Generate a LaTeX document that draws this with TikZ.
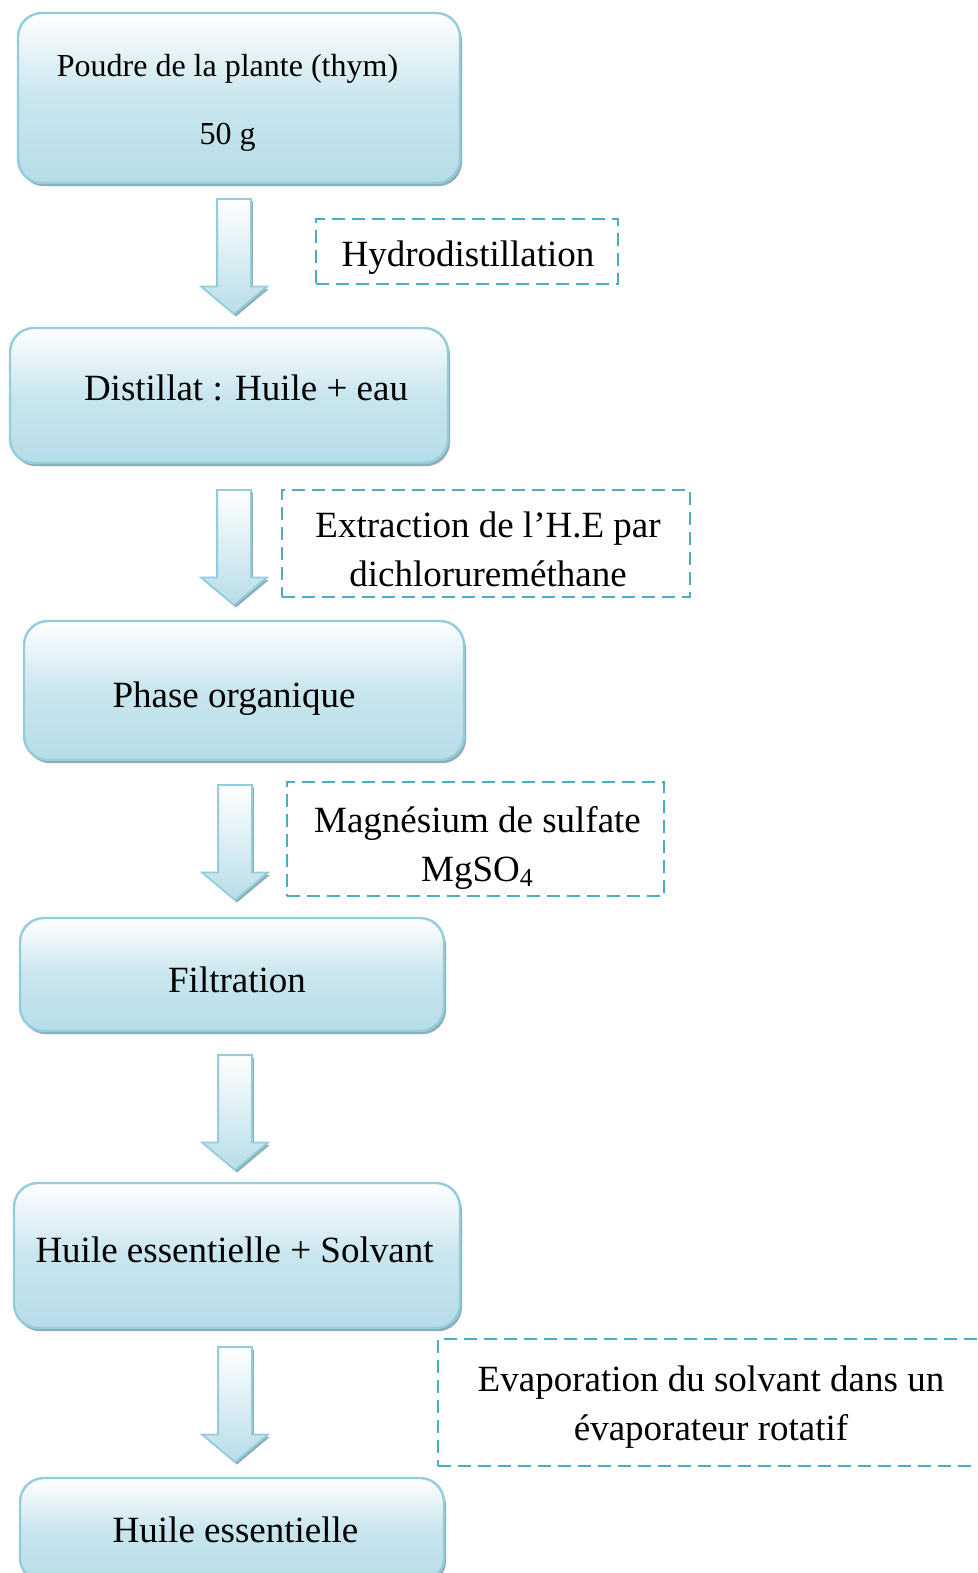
\documentclass[tikz,border=0pt]{standalone}
\usepackage{fontspec}
\setmainfont{Liberation Serif}
\usepackage{xcolor}
\usetikzlibrary{shapes.arrows,shadows}

\definecolor{boxblue}{HTML}{B7DDE8}
\definecolor{boxline}{HTML}{93CDDD}
\definecolor{dashblue}{HTML}{4BACC6}
\definecolor{shadowblue}{HTML}{8DADB6}

\begin{document}
\begin{tikzpicture}[x=0.5pt,y=-0.5pt,font=\fontsize{18.5}{24.5}\selectfont,
  stepbox/.style={draw=boxline,line width=1.2pt,rounded corners=12pt,
    top color=white,bottom color=boxblue,middle color=boxblue!75,inner sep=0pt,
    drop shadow={shadow xshift=1pt,shadow yshift=-1.6pt,fill=shadowblue,opacity=1}},
  notebox/.style={draw=dashblue,dashed,dash pattern=on 6.5pt off 3.5pt,line width=1.1pt,
    inner sep=0pt},
  txt/.style={align=center,inner sep=0pt},
  downarrow/.style={single arrow,shape border rotate=270,draw=boxline,line width=0.9pt,
    top color=white,bottom color=boxblue,inner xsep=8pt,inner ysep=0pt,
    minimum height=57.5pt,
    single arrow head extend=8pt,single arrow tip angle=100,
    drop shadow={shadow xshift=1pt,shadow yshift=-1.2pt,fill=shadowblue,opacity=1}}]

\useasboundingbox (0,0) rectangle (978,1573);

% poudre
\node[stepbox,minimum width=221pt,minimum height=85pt] (poudre) at (239,98) {};
\node[txt,font=\fontsize{16}{34}\selectfont] (t-poudre) at (227.5,103)
  {Poudre de la plante (thym)\\50 g};

\node[downarrow] (a1) at (234,249.5) {};
\node[notebox,minimum width=151pt,minimum height=32.5pt] (hydro) at (467,251.5) {};
\node[txt] (t-hydro) at (468,257.5) {Hydrodistillation};

% distillat
\node[stepbox,minimum width=219pt,minimum height=67.5pt] (distillat) at (229,395.5) {};
\node[txt] (t-distillat) at (246,387.5) {Distillat : Huile + eau};

\node[downarrow] (a2) at (234,540.5) {};
\node[notebox,minimum width=204pt,minimum height=53.5pt] (extraction) at (486,543.5) {};
\node[txt] (t-extraction) at (488,549.5)
  {Extraction de l’H.E par\\dichlorureméthane};

% phase organique
\node[stepbox,minimum width=220pt,minimum height=69.5pt] (phase) at (244,690.5) {};
\node[txt] (t-phase) at (234,698.5) {Phase organique};

\node[downarrow] (a3) at (235,835.5) {};
\node[notebox,minimum width=188.5pt,minimum height=57pt] (sulfate) at (475.5,839) {};
\node[txt] (t-sulfate) at (477.5,848) {Magnésium de sulfate\\MgSO\textsubscript{4}};

% filtration
\node[stepbox,minimum width=212pt,minimum height=56.5pt] (filtration) at (232,974.5) {};
\node[txt] (t-filtration) at (237,979.5) {Filtration};

\node[downarrow] (a4) at (235,1105.5) {};

% huile + solvant
\node[stepbox,minimum width=223pt,minimum height=72.5pt] (solvant) at (237,1255.5) {};
\node[txt] (t-solvant) at (234.5,1249.5) {Huile essentielle + Solvant};

\node[downarrow] (a5) at (235,1397.5) {};
\node[notebox,minimum width=273pt,minimum height=63.5pt] (evaporation) at (711,1402.5) {};
\node[txt] (t-evaporation) at (711,1407.5)
  {Evaporation du solvant dans un\\évaporateur rotatif};

% huile essentielle
\node[stepbox,minimum width=212pt,minimum height=52pt] (huile) at (232,1530) {};
\node[txt] (t-huile) at (235.5,1530) {Huile essentielle};

\end{tikzpicture}
\end{document}
